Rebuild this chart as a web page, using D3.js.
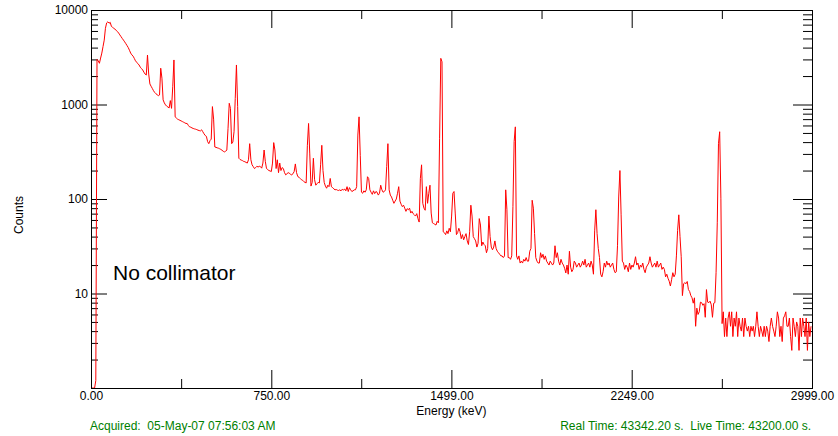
<!DOCTYPE html>
<html>
<head>
<meta charset="utf-8">
<script src="https://cdn.jsdelivr.net/npm/d3@7"></script>
<style>
body { margin: 0; background: #fff; }
text { font-family: "Liberation Sans", Arial, sans-serif; }
</style>
</head>
<body>
<script>
// one value every 5 keV
const keVStep = 5;
const counts = [
    1, 1, 1, 1, 1.2, 3000, 2900, 2730, 3100, 3500, 4100, 4800, 6400, 7300, 7500, 7250, 7400, 6700, 6550, 6400,
    6250, 6100, 5900, 5700, 5450, 5220, 5000, 4800, 4600, 4400, 4200, 4000, 3750, 3500, 3350, 3250, 3080, 2900, 2800, 2700,
    2620, 2480, 2400, 2320, 2200, 2100, 2050, 3340, 2100, 1650, 1560, 1480, 1400, 1340, 1300, 1270, 1240, 1260, 2420, 1900,
    1120, 1040, 990, 960, 940, 920, 1100, 910, 1540, 2960, 740, 720, 700, 690, 680, 670, 660, 650, 640, 630,
    630, 600, 580, 575, 565, 558, 552, 548, 542, 535, 530, 525, 540, 515, 490, 470, 460, 405, 385, 415,
    430, 950, 700, 355, 352, 348, 345, 340, 335, 328, 320, 315, 320, 330, 560, 1030, 910, 385, 400, 515,
    1160, 2620, 950, 270, 262, 258, 255, 250, 248, 244, 240, 260, 385, 260, 230, 220, 210, 215, 222, 218,
    222, 220, 212, 240, 330, 250, 210, 205, 200, 198, 195, 240, 395, 330, 210, 260, 190, 240, 200, 215,
    210, 190, 180, 185, 190, 188, 182, 180, 185, 195, 235, 190, 173, 170, 165, 160, 158, 153, 150, 148,
    370, 630, 300, 137, 150, 270, 160, 140, 145, 150, 148, 230, 370, 200, 150, 137, 130, 140, 135, 165,
    135, 132, 128, 125, 126, 124, 123, 125, 122, 127, 124, 128, 122, 135, 120, 132, 125, 120, 122, 125,
    125, 135, 475, 740, 290, 118, 115, 122, 118, 125, 172, 165, 125, 118, 112, 122, 114, 120, 118, 110,
    115, 140, 125, 118, 120, 125, 220, 385, 125, 110, 105, 97, 90, 95, 100, 115, 135, 95, 88, 83,
    86, 80, 74, 79, 77, 80, 71, 74, 70, 68, 66, 70, 62, 57, 165, 230, 90, 80, 76, 135,
    90, 115, 140, 71, 56, 55, 54, 53, 58, 56, 440, 3080, 2830, 45, 44, 42, 46, 43, 49, 45,
    66, 115, 120, 71, 42, 44, 49, 45, 38, 42, 37, 40, 43, 36, 33, 45, 86, 66, 40, 38,
    36, 31, 34, 62, 53, 32, 35, 33, 32, 27, 30, 66, 40, 31, 29, 31, 36, 30, 28, 27,
    26, 25, 25, 24, 25, 125, 77, 24, 24, 23, 25, 83, 405, 580, 25, 23, 25, 21, 22, 21,
    23, 22, 24, 22, 22, 28, 30, 97, 80, 43, 24, 22, 21, 21, 27, 24, 26, 23, 25, 22,
    21, 20, 22, 21, 20, 21, 32, 24, 27, 22, 20, 23, 21, 20, 18.5, 16.5, 20, 16, 28, 19,
    17, 18, 22, 21, 19, 20, 21, 19, 20, 22, 20, 23, 19, 20, 21, 19, 22, 20, 16, 46,
    77, 43, 30, 24, 16, 15, 17, 21, 19, 22, 20, 21, 19, 20, 21, 18, 16.6, 17, 32, 105,
    200, 68, 22, 21, 18, 20, 19, 17, 21, 18, 20, 19, 21, 24.5, 20, 21, 18, 20, 19, 21,
    18, 16.6, 19, 20, 21, 24.5, 21, 19, 20, 21, 19, 22, 19, 20, 21, 18, 19, 18, 15, 16,
    14.5, 13.5, 12, 14, 16.6, 15, 16, 25, 46.5, 68, 40, 24.5, 9.5, 12.7, 13, 12.7, 13.4, 11, 10.5, 9.5,
    9, 7.9, 9, 4.5, 7, 6, 6.4, 8.1, 8, 7.5, 7.8, 5.6, 11, 8.1, 8, 8.3, 7.6, 5.6, 7.9, 8,
    16.6, 56, 385, 515, 102, 4.8, 6.4, 3.5, 5.5, 3.5, 5.5, 6.4, 4.5, 6.4, 3.5, 5.5, 4.5, 6.4, 3.5, 5.5,
    4.5, 4, 5.5, 3.5, 5.5, 4.5, 4, 4.5, 3.5, 4.5, 4, 4.5, 3.5, 4.5, 6.4, 4.5, 3.5, 4.5, 4, 3.5,
    4.5, 3.5, 4.5, 4, 3.1, 4.5, 5.5, 4.5, 4, 3.5, 4.5, 6.4, 5.5, 3.5, 4.5, 3.1, 5.5, 5.8, 6.4, 4.5,
    4.5, 5.5, 3.5, 2.5, 5.5, 4.5, 3.5, 5, 4.5, 2.5, 5.5, 3.5, 5.5, 4.5, 3.5, 5.5, 2.5, 5, 3.5, 4.5
];

const xMajor = [0, 750, 1499, 2249, 2999];
const xMinor = [375, 1124, 1874, 2624];
const xTickLabels = ["0.00", "750.00", "1499.00", "2249.00", "2999.00"];
const yMajor = [10, 100, 1000, 10000];
const acquiredText = "Acquired:  05-May-07 07:56:03 AM";
const timeText = "Real Time: 43342.20 s.  Live Time: 43200.00 s.";
const noteText = "No collimator";

const width = 838, height = 436;
const margin = {top: 10, right: 26, bottom: 48, left: 91};

const x = d3.scaleLinear().domain([0, 2999]).range([margin.left, width - margin.right]);
const y = d3.scaleLog().domain([1, 10000]).range([height - margin.bottom, margin.top]);

const yMinor = y.ticks().filter(d => !yMajor.includes(d) && d !== 1);

const svg = d3.select("body").append("svg")
    .attr("width", width)
    .attr("height", height);

// left axis, ticks point into the plot
svg.append("g")
    .attr("transform", `translate(${margin.left},0)`)
    .call(d3.axisLeft(y).tickValues(yMajor).tickSize(-16).tickPadding(3)
        .tickFormat((d, i) => String(d)))
    .call(g => g.select(".domain").remove());
svg.append("g")
    .attr("transform", `translate(${margin.left},0)`)
    .call(d3.axisLeft(y).tickValues(yMinor).tickSize(-7).tickFormat(""))
    .call(g => g.select(".domain").remove());

// right axis
svg.append("g")
    .attr("transform", `translate(${width - margin.right},0)`)
    .call(d3.axisRight(y).tickValues(yMajor).tickSize(-19).tickFormat(""))
    .call(g => g.select(".domain").remove());
svg.append("g")
    .attr("transform", `translate(${width - margin.right},0)`)
    .call(d3.axisRight(y).tickValues(yMinor).tickSize(-9).tickFormat(""))
    .call(g => g.select(".domain").remove());

// bottom axis
svg.append("g")
    .attr("transform", `translate(0,${height - margin.bottom})`)
    .call(d3.axisBottom(x).tickValues(xMajor).tickSize(-18).tickPadding(3)
        .tickFormat((d, i) => xTickLabels[i]))
    .call(g => g.select(".domain").remove());
svg.append("g")
    .attr("transform", `translate(0,${height - margin.bottom})`)
    .call(d3.axisBottom(x).tickValues(xMinor).tickSize(-9).tickFormat(""))
    .call(g => g.select(".domain").remove());

// top axis
svg.append("g")
    .attr("transform", `translate(0,${margin.top})`)
    .call(d3.axisTop(x).tickValues(xMajor.slice(1, -1)).tickSize(-18).tickFormat(""))
    .call(g => g.select(".domain").remove());
svg.append("g")
    .attr("transform", `translate(0,${margin.top})`)
    .call(d3.axisTop(x).tickValues(xMinor).tickSize(-9).tickFormat(""))
    .call(g => g.select(".domain").remove());

svg.selectAll(".tick line").attr("stroke", "#000");
svg.selectAll(".tick text")
    .attr("fill", "#000")
    .style("font-size", "12px")
    .style("font-family", "\"Liberation Sans\", Arial, sans-serif");

// spectrum
const line = d3.line()
    .x((d, i) => x(i * keVStep))
    .y(d => y(d));

svg.append("path")
    .datum(counts)
    .attr("fill", "none")
    .attr("stroke", "#ff0000")
    .attr("stroke-width", 1)
    .attr("d", line);

// frame
svg.append("rect")
    .attr("x", margin.left + 0.5)
    .attr("y", margin.top + 0.5)
    .attr("width", width - margin.left - margin.right)
    .attr("height", height - margin.top - margin.bottom)
    .attr("fill", "none")
    .attr("stroke", "#000")
    .attr("shape-rendering", "crispEdges");

svg.append("text")
    .attr("x", 113)
    .attr("y", 280)
    .style("font-size", "21px")
    .text(noteText);

svg.append("text")
    .attr("transform", "translate(23,215) rotate(-90)")
    .attr("text-anchor", "middle")
    .style("font-size", "12px")
    .text("Counts");

svg.append("text")
    .attr("x", x(1499))
    .attr("y", 415)
    .attr("text-anchor", "middle")
    .style("font-size", "12px")
    .text("Energy (keV)");

svg.append("text")
    .attr("x", 90)
    .attr("y", 430)
    .attr("fill", "#008000")
    .style("font-size", "12px")
    .style("white-space", "pre")
    .text(acquiredText);

svg.append("text")
    .attr("x", 811)
    .attr("y", 430)
    .attr("text-anchor", "end")
    .attr("fill", "#008000")
    .style("font-size", "12px")
    .style("white-space", "pre")
    .text(timeText);
</script>
</body>
</html>
